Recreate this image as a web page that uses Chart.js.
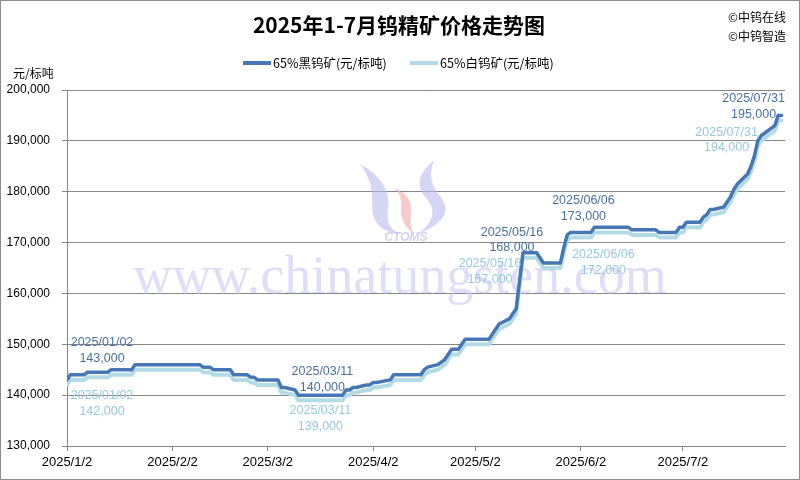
<!DOCTYPE html>
<html>
<head>
<meta charset="utf-8">
<script src="https://cdn.jsdelivr.net/npm/chart.js@4.4.1/dist/chart.umd.min.js"></script>
<style>
    html, body { margin: 0; padding: 0; background: #fff; }
    #wrap { width: 800px; height: 480px; position: relative; }
</style>
</head>
<body>
<div id="wrap"><canvas id="priceChart" width="800" height="480"></canvas></div>
<script>
// chart data
const titleText = '2025年1-7月钨精矿价格走势图';
const seriesNames = ['65%黑钨矿(元/标吨)', '65%白钨矿(元/标吨)'];
const dates = [
    '1/2', '1/3', '1/7', '1/8', '1/14', '1/15', '1/21', '1/22', '2/10', '2/11',
    '2/13', '2/14', '2/19', '2/20', '2/24', '2/25', '2/26', '2/27', '3/5', '3/6',
    '3/7', '3/10', '3/11', '3/24', '3/25', '3/26', '3/27', '3/28', '3/31', '4/1',
    '4/2', '4/3', '4/7', '4/8', '4/16', '4/17', '4/18', '4/21', '4/22', '4/23',
    '4/24', '4/25', '4/27', '4/28', '4/29', '5/6', '5/7', '5/8', '5/9', '5/12',
    '5/13', '5/14', '5/15', '5/16', '5/20', '5/21', '5/22', '5/27', '5/28', '5/29',
    '5/30', '6/5', '6/6', '6/16', '6/17', '6/24', '6/25', '6/30', '7/1', '7/2',
    '7/3', '7/7', '7/8', '7/9', '7/10', '7/11', '7/14', '7/15', '7/16', '7/17',
    '7/18', '7/21', '7/22', '7/23', '7/24', '7/25', '7/28', '7/29', '7/30', '7/31'
];
const blackPrices = [
    143000, 144000, 144000, 144500, 144500, 145000, 145000, 146000, 146000, 145500,
    145500, 145000, 145000, 144000, 144000, 143500, 143500, 143000, 143000, 141500,
    141500, 141000, 140000, 140000, 141000, 141000, 141500, 141500, 142000, 142000,
    142500, 142500, 143000, 144000, 144000, 145000, 145500, 146000, 146500, 147000,
    148000, 149000, 149000, 150000, 151000, 151000, 152000, 153000, 154000, 155000,
    156000, 157000, 162500, 168000, 168000, 167000, 166000, 166000, 169000, 171500,
    172000, 172000, 173000, 173000, 172500, 172500, 172000, 172000, 173000, 173000,
    174000, 174000, 175000, 175500, 176500, 176500, 177000, 178000, 179000, 180500,
    181500, 183500, 185000, 187000, 190000, 191000, 192500, 193000, 195000, 195000
];
const whitePrices = [
    142000, 143000, 143000, 143500, 143500, 144000, 144000, 145000, 145000, 144500,
    144500, 144000, 144000, 143000, 143000, 142500, 142500, 142000, 142000, 140500,
    140500, 140000, 139000, 139000, 140000, 140000, 140500, 140500, 141000, 141000,
    141500, 141500, 142000, 143000, 143000, 144000, 144500, 145000, 145500, 146000,
    147000, 148000, 148000, 149000, 150000, 150000, 151000, 152000, 153000, 154000,
    155000, 156000, 161500, 167000, 167000, 166000, 165000, 165000, 168000, 170500,
    171000, 171000, 172000, 172000, 171500, 171500, 171000, 171000, 172000, 172000,
    173000, 173000, 174000, 174500, 175500, 175500, 176000, 177000, 178000, 179500,
    180500, 182500, 184000, 186000, 189000, 190000, 191500, 192000, 194000, 194000
];
const xTickLabels = ['2025/1/2', '2025/2/2', '2025/3/2', '2025/4/2', '2025/5/2', '2025/6/2', '2025/7/2'];
const xEndDate = '8/1';
const yMin = 130000, yMax = 200000, yStep = 10000;
const labelDates = ['1/2', '3/11', '5/16', '6/6', '7/31'];

// day number counted from 2025/1/2
function dayOf(md) {
    const p = md.split('/').map(Number);
    const m = p.length === 3 ? p[1] : p[0];
    const d = p.length === 3 ? p[2] : p[1];
    return (Date.UTC(2025, m - 1, d) - Date.UTC(2025, 0, 2)) / 86400000;
}
function fullDate(md) {
    const [m, d] = md.split('/');
    return '2025/' + m.padStart(2, '0') + '/' + d.padStart(2, '0');
}

const xTickValues = xTickLabels.map(dayOf);
const colors = ['#4677b4', '#b3dbe6'];
const labelColors = ['#4a70a3', '#96c9db'];

// label offsets from the data point: [dx, dy first line, dy second line]
const labelOffsets = [
    [[35, -37, -21], [24, -24, -8], [-11, -20, -5], [-11, -27, -11], [-28, -17, -1]],
    [[35, 11, 27], [22, 10, 26], [-33, 6, 22], [9, 22, 38], [-55, 12, 27]]
];

const decorPlugin = {
    id: 'decor',
    beforeDatasetsDraw(chart) {
        const ctx = chart.ctx;
        ctx.save();
        // watermark logo
        ctx.fillStyle = 'rgba(185,185,240,0.6)';
        ctx.beginPath();
        ctx.moveTo(360, 164);
        ctx.quadraticCurveTo(392, 182, 388, 210);
        ctx.quadraticCurveTo(385, 230, 402, 234);
        ctx.quadraticCurveTo(372, 232, 372, 206);
        ctx.quadraticCurveTo(374, 182, 360, 164);
        ctx.fill();
        ctx.beginPath();
        ctx.moveTo(434, 160);
        ctx.quadraticCurveTo(410, 180, 426, 198);
        ctx.quadraticCurveTo(442, 216, 418, 234);
        ctx.quadraticCurveTo(458, 218, 440, 196);
        ctx.quadraticCurveTo(426, 180, 434, 160);
        ctx.fill();
        ctx.fillStyle = 'rgba(245,175,175,0.65)';
        ctx.beginPath();
        ctx.moveTo(394, 188);
        ctx.quadraticCurveTo(414, 196, 411, 214);
        ctx.quadraticCurveTo(409, 226, 414, 234);
        ctx.quadraticCurveTo(400, 224, 401, 208);
        ctx.quadraticCurveTo(403, 196, 394, 188);
        ctx.fill();
        ctx.fillStyle = 'rgba(185,185,240,0.65)';
        ctx.font = 'italic bold 12px "Liberation Sans"';
        ctx.textAlign = 'center';
        ctx.textBaseline = 'middle';
        ctx.fillText('CTOMS', 406, 238);
        // watermark url
        ctx.fillStyle = 'rgba(200,200,245,0.6)';
        ctx.font = '54px "Liberation Serif"';
        ctx.textBaseline = 'alphabetic';
        ctx.fillText('www.chinatungsten.com', 400, 293);
        ctx.restore();
    },
    afterDraw(chart) {
        const ctx = chart.ctx;
        ctx.save();
        // border
        ctx.strokeStyle = '#8c8c8c';
        ctx.lineWidth = 1;
        ctx.strokeRect(0.5, 0.5, 799, 479);
        // title
        ctx.fillStyle = '#000';
        ctx.textAlign = 'center';
        ctx.textBaseline = 'middle';
        ctx.font = 'bold 21px "Noto Sans CJK SC"';
        ctx.fillText(titleText, 399, 25);
        // copyright
        ctx.font = '12px "Noto Sans CJK SC"';
        ctx.textAlign = 'left';
        ctx.fillText('©中钨在线', 728, 17);
        ctx.fillText('©中钨智造', 728, 36);
        // unit
        ctx.fillText('元/标吨', 13, 73);
        // legend
        const legendX = [243, 410];
        seriesNames.forEach((name, i) => {
            ctx.strokeStyle = colors[i];
            ctx.lineWidth = 4;
            ctx.beginPath();
            ctx.moveTo(legendX[i], 63);
            ctx.lineTo(legendX[i] + 28, 63);
            ctx.stroke();
            ctx.fillStyle = '#000';
            ctx.font = '12.5px "Noto Sans CJK SC"';
            ctx.fillText(name, legendX[i] + 30, 63);
        });
        // data labels
        const xs = chart.scales.x, ys = chart.scales.y;
        ctx.font = '12.5px "Liberation Sans"';
        ctx.textAlign = 'center';
        [blackPrices, whitePrices].forEach((vals, s) => {
            labelDates.forEach((md, k) => {
                const idx = dates.indexOf(md);
                const px = xs.getPixelForValue(dayOf(md));
                const py = ys.getPixelForValue(vals[idx]);
                const off = labelOffsets[s][k];
                ctx.fillStyle = labelColors[s];
                ctx.fillText(fullDate(md), px + off[0], py + off[1]);
                ctx.fillText(vals[idx].toLocaleString('en-US'), px + off[0], py + off[2]);
            });
        });
        ctx.restore();
    }
};

function toPoints(vals) {
    return dates.map((md, i) => ({ x: dayOf(md), y: vals[i] }));
}

new Chart(document.getElementById('priceChart').getContext('2d'), {
    type: 'line',
    data: {
        datasets: [
            {
                label: seriesNames[0],
                data: toPoints(blackPrices),
                borderColor: colors[0],
                borderWidth: 3.5,
                pointRadius: 0,
                tension: 0,
                borderJoinStyle: 'round',
                borderCapStyle: 'round'
            },
            {
                label: seriesNames[1],
                data: toPoints(whitePrices),
                borderColor: colors[1],
                borderWidth: 4,
                pointRadius: 0,
                tension: 0,
                borderJoinStyle: 'round',
                borderCapStyle: 'round'
            }
        ]
    },
    options: {
        responsive: false,
        animation: false,
        events: [],
        layout: { padding: { top: 90, right: 15, left: 0, bottom: 0 } },
        plugins: {
            legend: { display: false },
            title: { display: false },
            tooltip: { enabled: false }
        },
        scales: {
            x: {
                type: 'linear',
                min: 0,
                max: dayOf(xEndDate),
                afterFit(scale) { scale.height = 34; },
                afterBuildTicks(scale) {
                    scale.ticks = xTickValues.map(v => ({ value: v }));
                },
                ticks: {
                    autoSkip: false,
                    maxRotation: 0,
                    padding: 4,
                    color: '#000',
                    font: { family: 'Liberation Sans', size: 13 },
                    callback: (v) => xTickLabels[xTickValues.indexOf(v)]
                },
                grid: { drawOnChartArea: false, drawTicks: true, tickLength: 5, color: '#868686' },
                border: { color: '#868686', width: 1 }
            },
            y: {
                min: yMin,
                max: yMax,
                afterFit(scale) { scale.width = 67; },
                ticks: {
                    stepSize: yStep,
                    padding: 12,
                    color: '#000',
                    font: { family: 'Liberation Sans', size: 12 },
                    callback: (v) => v.toLocaleString('en-US')
                },
                grid: { color: '#868686', tickLength: 5, lineWidth: 1 },
                border: { color: '#868686', width: 1 }
            }
        }
    },
    plugins: [decorPlugin]
});
</script>
</body>
</html>
